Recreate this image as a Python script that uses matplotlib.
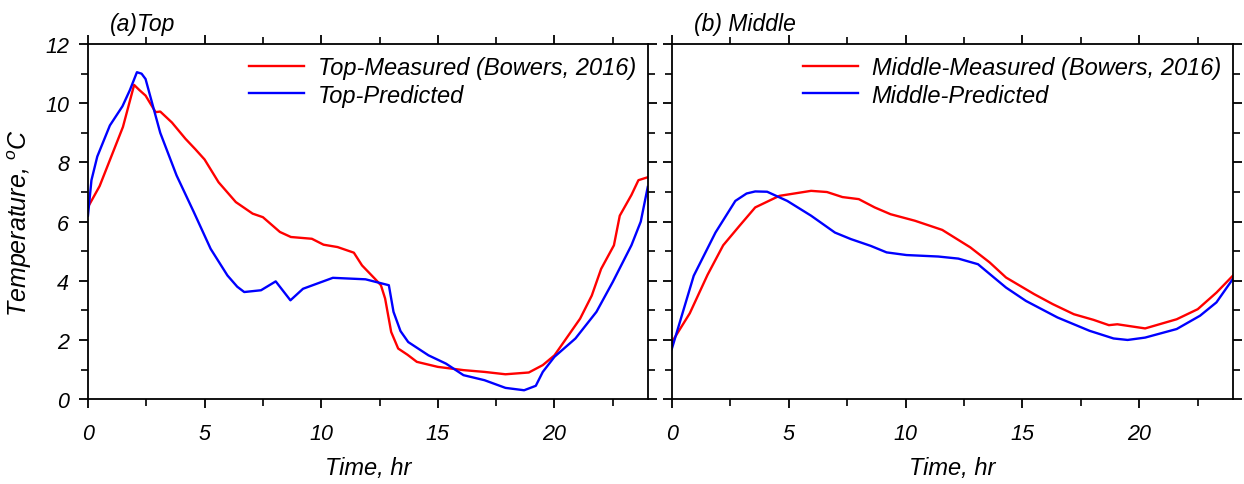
import matplotlib
matplotlib.use("Agg")
import matplotlib.pyplot as plt
from matplotlib.ticker import MultipleLocator

plt.rcParams['font.family'] = ['Liberation Sans', 'DejaVu Sans']
plt.rcParams['font.style'] = 'italic'
plt.rcParams['mathtext.fontset'] = 'custom'
plt.rcParams['mathtext.rm'] = 'Liberation Sans:italic'
plt.rcParams['mathtext.it'] = 'Liberation Sans:italic'

# (a) Top
top_meas_t = [0, 0.5, 1.0, 1.5, 1.98, 2.2, 2.47, 2.9, 3.1, 3.6, 4.18, 4.6, 5.0, 5.6, 6.34, 7.06, 7.5,
              8.23, 8.7, 9.6, 10.1, 10.7, 11.4, 11.75, 12.3, 12.56, 12.74, 13.0, 13.3,
              13.7, 14.1, 15.0, 16.1, 17.0, 17.9, 18.9, 19.5, 20.0, 20.4, 21.1, 21.6, 22.0, 22.55,
              22.8, 23.3, 23.6, 24.0]
top_meas_T = [6.49, 7.2, 8.2, 9.2, 10.62, 10.45, 10.26, 9.7, 9.72, 9.35, 8.8, 8.45, 8.1, 7.33, 6.66, 6.27, 6.15,
              5.65, 5.48, 5.42, 5.22, 5.14, 4.95, 4.52, 4.07, 3.85, 3.4, 2.27, 1.71,
              1.5, 1.26, 1.09, 0.98, 0.92, 0.84, 0.9, 1.15, 1.48, 1.93, 2.72, 3.5, 4.4, 5.2,
              6.2, 6.9, 7.4, 7.5]
top_pred_t = [0, 0.15, 0.4, 0.94, 1.48, 1.8, 2.1, 2.3, 2.47, 3.1, 3.8, 4.54, 5.26, 5.98, 6.4, 6.7, 7.42, 8.05,
              8.68, 9.22, 10.5, 11.9, 12.9, 13.1, 13.4, 13.73, 14.6, 15.35, 16.1, 17.0, 17.9,
              18.7, 19.2, 19.5, 20.0, 20.9, 21.8, 22.5, 23.3, 23.7, 24.0]
top_pred_T = [6.2, 7.4, 8.2, 9.25, 9.9, 10.45, 11.05, 11.0, 10.82, 9.0, 7.56, 6.32, 5.08, 4.18, 3.8, 3.62, 3.68, 3.98,
              3.34, 3.73, 4.1, 4.05, 3.85, 2.95, 2.3, 1.93, 1.48, 1.2, 0.81, 0.64, 0.38,
              0.3, 0.45, 0.92, 1.43, 2.05, 2.95, 3.96, 5.2, 6.0, 7.17]

# (b) Middle
mid_meas_t = [0, 0.77, 1.53, 2.2, 2.9, 3.57, 4.6, 5.96, 6.64, 7.3, 8.0, 8.68, 9.36, 10.4,
              11.57, 12.77, 13.6, 14.3, 15.5, 16.3, 17.2, 18.04, 18.7, 19.06, 20.25,
              21.6, 22.5, 23.3, 24.0]
mid_meas_T = [1.92, 2.9, 4.2, 5.2, 5.86, 6.48, 6.87, 7.04, 7.0, 6.83, 6.76, 6.48, 6.25, 6.03,
              5.72, 5.13, 4.62, 4.11, 3.55, 3.21, 2.87, 2.68, 2.5, 2.53, 2.39,
              2.7, 3.04, 3.6, 4.17]
mid_pred_t = [0, 0.94, 1.87, 2.72, 3.2, 3.57, 4.08, 4.94, 5.96, 6.98, 7.66, 8.51, 9.19, 10.04,
              11.4, 12.26, 13.1, 13.6, 14.3, 15.15, 16.5, 17.87, 18.9, 19.5, 20.25,
              21.6, 22.6, 23.3, 24.0]
mid_pred_T = [1.69, 4.17, 5.63, 6.7, 6.95, 7.02, 7.01, 6.7, 6.2, 5.63, 5.41, 5.18, 4.96, 4.87,
              4.82, 4.75, 4.56, 4.23, 3.77, 3.32, 2.76, 2.31, 2.05, 2.0, 2.08,
              2.37, 2.82, 3.27, 4.06]

fig = plt.figure(figsize=(12.44, 4.85), dpi=100)
ax1 = fig.add_axes([0.0707, 0.175, 0.450, 0.732])
ax2 = fig.add_axes([0.540, 0.175, 0.451, 0.732])

panels = [
    (ax1, top_meas_t, top_meas_T, top_pred_t, top_pred_T,
     'Top-Measured (Bowers, 2016)', 'Top-Predicted', '(a)Top'),
    (ax2, mid_meas_t, mid_meas_T, mid_pred_t, mid_pred_T,
     'Middle-Measured (Bowers, 2016)', 'Middle-Predicted', '(b) Middle'),
]

for ax, mt, mT, pt, pT, lab_m, lab_p, title in panels:
    ax.plot(mt, mT, color='red', lw=1.7, label=lab_m)
    ax.plot(pt, pT, color='blue', lw=1.7, label=lab_p)
    ax.set_xlim(0, 24)
    ax.set_ylim(0, 12)
    ax.xaxis.set_major_locator(MultipleLocator(5))
    ax.xaxis.set_minor_locator(MultipleLocator(2.5))
    ax.yaxis.set_major_locator(MultipleLocator(2))
    ax.yaxis.set_minor_locator(MultipleLocator(1))
    ax.tick_params(which='major', direction='out', top=True, right=True,
                   length=6.5, width=1.3, labelsize=15.5)
    ax.tick_params(which='minor', direction='out', top=True, right=True,
                   length=5, width=1.2)
    ax.tick_params(axis='x', pad=11)
    ax.tick_params(axis='y', pad=7)
    for sp in ax.spines.values():
        sp.set_linewidth(1.3)
    ax.set_xlabel('Time, hr', fontsize=17, labelpad=8)
    ax.text(0.04, 1.025, title, transform=ax.transAxes, fontsize=16.5,
            ha='left', va='bottom')
    ax.legend(loc='upper right', frameon=False, fontsize=17, handlelength=2.3,
              handletextpad=0.6, borderaxespad=0.2, labelspacing=0.2,
              borderpad=0.3)

ax1.set_ylabel(r'Temperature, $^{o}$C', fontsize=18, labelpad=8)
ax2.tick_params(axis='y', labelleft=False)

fig.savefig('out.png', dpi=100)
